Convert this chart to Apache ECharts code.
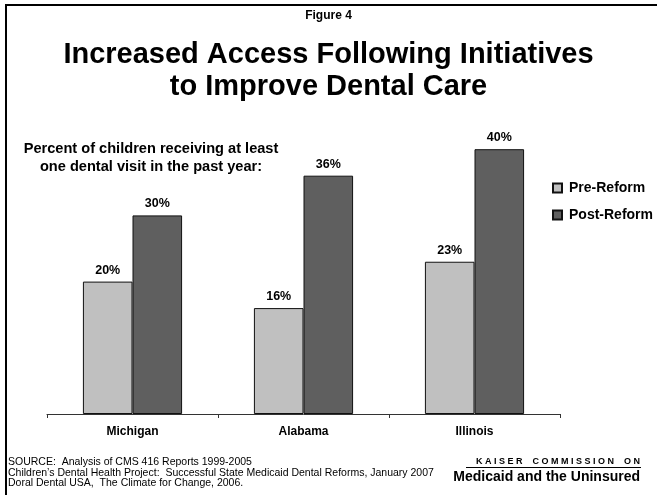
<!DOCTYPE html>
<html><head><meta charset="utf-8">
<script src="https://cdn.jsdelivr.net/npm/echarts@6/dist/echarts.min.js"></script>
<style>html,body{margin:0;padding:0;background:#fff}#c{width:657px;height:495px}</style>
</head><body><div id="c"></div>
<script>
var categories = ['Michigan', 'Alabama', 'Illinois'];
var preReform = [20, 16, 23];
var postReform = [30, 36, 40];
var seriesNames = ['Pre-Reform', 'Post-Reform'];

var F = '"Liberation Sans", Arial, sans-serif';
var chart = echarts.init(document.getElementById('c'));
chart.setOption({
  animation: false,
  backgroundColor: '#fff',
  textStyle: { fontFamily: F },
  title: [
    { text: 'Figure 4', left: 'center', top: 5, textStyle: { fontSize: 12, fontWeight: 'bold', color: '#000', fontFamily: F } },
    { text: 'Increased Access Following Initiatives\nto Improve Dental Care', left: 'center', top: 34,
      textStyle: { fontSize: 29, fontWeight: 'bold', color: '#000', lineHeight: 32, fontFamily: F } },
    { text: 'Percent of children receiving at least\none dental visit in the past year:', left: 146, top: 135, textAlign: 'center',
      textStyle: { fontSize: 14.6, fontWeight: 'bold', color: '#000', lineHeight: 18, fontFamily: F } }
  ],
  legend: {
    orient: 'vertical', left: 547, top: 176, itemGap: 13, itemWidth: 9, itemHeight: 9,
    icon: 'rect', data: seriesNames,
    textStyle: { fontSize: 14, fontWeight: 'bold', color: '#000', fontFamily: F, padding: [0, 0, 0, 2] }
  },
  grid: { left: 47, right: 97, top: 83, bottom: 81, containLabel: false },
  xAxis: {
    type: 'category', data: categories,
    axisLine: { lineStyle: { color: '#333', width: 1 } },
    axisTick: { show: true, length: 4, lineStyle: { color: '#333' } },
    axisLabel: { fontSize: 12, fontWeight: 'bold', color: '#000', margin: 12, fontFamily: F }
  },
  yAxis: { type: 'value', min: 0, max: 50, show: false, splitLine: { show: false } },
  series: [
    { name: seriesNames[0], type: 'bar', data: preReform, barGap: '0%', barCategoryGap: '42%',
      itemStyle: { color: '#c0c0c0', borderColor: '#111', borderWidth: 1 },
      label: { show: true, position: 'top', formatter: '{c}%', fontSize: 12.5, fontWeight: 'bold', color: '#000', distance: 5, fontFamily: F } },
    { name: seriesNames[1], type: 'bar', data: postReform, barGap: '0%', barCategoryGap: '42%',
      itemStyle: { color: '#5f5f5f', borderColor: '#111', borderWidth: 1 },
      label: { show: true, position: 'top', formatter: '{c}%', fontSize: 12.5, fontWeight: 'bold', color: '#000', distance: 5, fontFamily: F } }
  ],
  graphic: [
    { type: 'rect', shape: { x: 5, y: 4, width: 652, height: 2 }, style: { fill: '#000' } },
    { type: 'rect', shape: { x: 5, y: 4, width: 2, height: 491 }, style: { fill: '#000' } },
    { type: 'text', left: 8, top: 457, style: { text: 'SOURCE:  Analysis of CMS 416 Reports 1999-2005\nChildren\u2019s Dental Health Project:  Successful State Medicaid Dental Reforms, January 2007\nDoral Dental USA,  The Climate for Change, 2006.', font: '10.5px ' + F, fill: '#000', lineHeight: 10.5 } },
    { type: 'text', right: 17, top: 457, style: { text: 'K A I S E R    C O M M I S S I O N    O N', font: 'bold 9px ' + F, fill: '#000' } },
    { type: 'rect', shape: { x: 466, y: 467, width: 175, height: 1 }, style: { fill: '#000' } },
    { type: 'text', right: 17, top: 470, style: { text: 'Medicaid and the Uninsured', font: 'bold 14px ' + F, fill: '#000' } }
  ]
});
</script></body></html>
